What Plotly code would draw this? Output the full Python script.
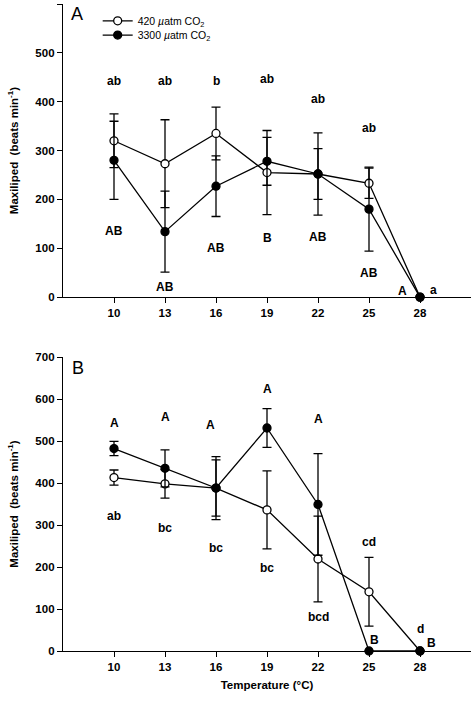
import plotly.graph_objects as go

temps = [10, 13, 16, 19, 22, 25, 28]

# Panel A
A_420 = [320, 273, 335, 255, 252, 233, 0]
A_420_err = [55, 90, 54, 86, 84, 31, None]
A_3300 = [280, 134, 227, 278, 252, 180, 0]
A_3300_err = [80, 83, 62, 49, 52, 86, None]

# Panel B
B_420 = [413, 398, 388, 336, 219, 141, 0]
B_420_err = [18, 34, 67, 93, 102, 82, None]
B_3300 = [482, 435, 388, 531, 349, 0, 0]
B_3300_err = [17, 44, 75, 46, 121, None, None]

# significance letters
A_low_txt = ["ab", "ab", "b", "ab", "ab", "ab", "a"]
A_low_x = [10, 13, 16, 19, 22, 25, 28.8]
A_low_y = [443, 443, 443, 446, 405, 347, 14]
A_up_txt = ["AB", "AB", "AB", "B", "AB", "AB", "A"]
A_up_x = [10, 13, 16, 19, 22, 25, 26.95]
A_up_y = [135, 20, 100, 120, 123, 50, 13]

B_up_txt = ["A", "A", "A", "A", "A", "B", "B"]
B_up_x = [10, 13, 15.7, 19, 22, 25.35, 28.65]
B_up_y = [544, 557, 538, 624, 552, 26, 18]
B_low_txt = ["ab", "bc", "bc", "bc", "bcd", "cd", "d"]
B_low_x = [10, 13, 16, 19, 22, 25, 28.05]
B_low_y = [322, 294, 246, 197, 82, 260, 52]

x_ticks = [10, 13, 16, 19, 22, 25, 28]

FONT = "Liberation Sans, Arial, Helvetica, sans-serif"

fig = go.Figure()

def add_series(x, y, err, filled, name, xa, ya, show, leg="legend"):
    fig.add_trace(go.Scatter(
        x=x, y=y, mode="lines+markers", name=name, showlegend=show, legend=leg,
        xaxis=xa, yaxis=ya,
        line=dict(color="black", width=1.3),
        marker=dict(symbol="circle", size=8,
                    color="black" if filled else "white",
                    line=dict(color="black", width=1.3)),
        error_y=dict(type="data", array=err, visible=True,
                     color="black", thickness=1.3, width=4.5),
        cliponaxis=False,
    ))

add_series(temps, A_420, A_420_err, False, "420 <i>µ</i>atm CO<sub>2</sub>", "x", "y", True, "legend")
add_series(temps, A_3300, A_3300_err, True, "3300 <i>µ</i>atm CO<sub>2</sub>", "x", "y", True, "legend2")
add_series(temps, B_420, B_420_err, False, "420", "x2", "y2", False)
add_series(temps, B_3300, B_3300_err, True, "3300", "x2", "y2", False)

ann = []
def letters(txts, xs, ys, xr, yr):
    for t, xv, yv in zip(txts, xs, ys):
        ann.append(dict(text=t, x=xv, y=yv, xref=xr, yref=yr, showarrow=False,
                        xanchor="center", yanchor="middle",
                        font=dict(family=FONT, size=12, color="black", weight="bold")))

letters(A_low_txt, A_low_x, A_low_y, "x", "y")
letters(A_up_txt, A_up_x, A_up_y, "x", "y")
letters(B_up_txt, B_up_x, B_up_y, "x2", "y2")
letters(B_low_txt, B_low_x, B_low_y, "x2", "y2")

ann.append(dict(text="A", x=0.034, y=0.966, xref="x domain", yref="y domain",
                showarrow=False, xanchor="center", yanchor="middle",
                font=dict(family=FONT, size=18, color="black")))
ann.append(dict(text="B", x=0.037, y=0.963, xref="x2 domain", yref="y2 domain",
                showarrow=False, xanchor="center", yanchor="middle",
                font=dict(family=FONT, size=18, color="black")))

axis_common = dict(showline=True, linecolor="black", linewidth=1.3,
                   ticks="outside", ticklen=5, tickwidth=1.3, tickcolor="black",
                   showgrid=False, zeroline=False, automargin=False,
                   tickfont=dict(family=FONT, size=11.5, color="black", weight="bold"))

ytitle = dict(text="Maxiliped  (beats min<sup>-1</sup>)",
              font=dict(family=FONT, size=11.5, color="black", weight="bold"),
              standoff=14)

leg_common = dict(xanchor="left", yanchor="middle", bgcolor="rgba(0,0,0,0)",
                  itemwidth=30, borderwidth=0,
                  font=dict(family=FONT, size=10.5, color="black"))

fig.update_layout(
    width=471, height=701,
    margin=dict(l=63, r=0, t=4, b=50),
    paper_bgcolor="white", plot_bgcolor="white",
    showlegend=True,
    legend=dict(x=0.085, y=0.974, **leg_common),
    legend2=dict(x=0.085, y=0.952, **leg_common),
    xaxis=dict(domain=[0, 1], range=[7, 31], tickvals=x_ticks, anchor="y", **axis_common),
    yaxis=dict(domain=[0.547, 1], range=[0, 600], dtick=100, anchor="x",
               title=ytitle, **axis_common),
    xaxis2=dict(domain=[0, 1], range=[7, 31], tickvals=x_ticks, anchor="y2",
                title=dict(text="Temperature (°C)", standoff=8,
                           font=dict(family=FONT, size=11.5, color="black", weight="bold")),
                **axis_common),
    yaxis2=dict(domain=[0, 0.4544], range=[0, 700], dtick=100, anchor="x2",
                title=ytitle, **axis_common),
    annotations=ann,
)

fig.write_html("out.html", config={"displayModeBar": False},
               post_script="document.body.style.margin='0';document.body.style.padding='0';")
